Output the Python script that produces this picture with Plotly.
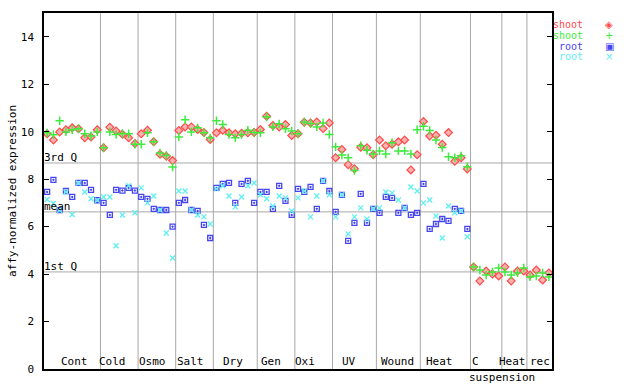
import plotly.graph_objects as go

# ---------------- data ----------------
groups = ["Cont", "Cold", "Osmo", "Salt", "Dry", "Gen", "Oxi", "UV", "Wound", "Heat", "C", "Heat", "rec"]
group_sizes = [9, 6, 6, 6, 7, 6, 6, 7, 7, 8, 5, 4, 4]

shoot_a = [9.91, 9.65, 9.99, 10.08, 10.16, 10.12, 9.74, 9.78, 10.08,
           9.32, 10.19, 10.03, 9.89, 9.74, 9.50,
           9.91, 10.06, 9.57, 9.05, 8.96, 8.78,
           10.05, 10.20, 10.20, 10.09, 9.97, 9.67,
           9.95, 10.06, 9.95, 9.91, 9.93, 9.95, 9.97,
           10.09, 10.65, 10.26, 10.20, 10.30, 9.84,
           9.91, 10.40, 10.37, 10.41, 10.13, 10.37,
           8.90, 9.25, 8.61, 8.44, 9.34, 9.32, 9.03,
           9.65, 9.41, 9.47, 9.57, 9.65, 8.39, 9.03,
           10.43, 9.82, 9.85, 9.47, 9.96, 8.75, 8.90, 8.43,
           4.30, 3.71, 4.13, 4.00, 3.92,
           4.30, 3.71, 4.13, 4.13,
           3.96, 4.17, 3.75, 4.05]

shoot_b = [9.95, 9.87, 10.46, 9.99, 10.08, 10.12, 9.91, 9.82, 9.99,
           9.32, 9.99, 9.88, 9.92, 9.91, 9.47,
           9.47, 9.95, 9.57, 9.10, 9.00, 8.51,
           9.78, 10.50, 9.99, 10.16, 9.95, 9.74,
           10.46, 10.30, 9.88, 9.74, 9.88, 10.06, 9.97,
           9.95, 10.62, 10.20, 10.33, 10.12, 10.03,
           9.91, 10.41, 10.34, 10.20, 10.37, 9.88,
           9.36, 9.02, 8.90, 8.36, 9.41, 9.22, 9.06,
           9.19, 9.06, 9.53, 9.19, 9.19, 9.06, 10.08,
           10.23, 10.05, 9.65, 9.33, 8.94, 8.90, 8.98, 8.52,
           4.30, 4.17, 3.96, 4.09, 4.26,
           4.09, 3.96, 4.05, 4.26,
           3.88, 3.92, 4.05, 3.88]

root_a = [7.46, 7.97, 6.69, 7.50, 7.25, 7.84, 7.84, 7.55, 7.11,
          7.00, 6.49, 7.55, 7.52, 7.63, 7.52,
          7.25, 7.17, 6.75, 6.70, 6.70, 6.00,
          7.00, 7.12, 6.70, 6.66, 6.07, 5.52,
          7.63, 7.80, 7.84, 7.00, 7.80, 7.93, 7.00,
          7.46, 7.46, 6.75, 7.72, 7.08, 6.49,
          7.59, 7.46, 7.67, 6.75, 7.93, 7.50,
          6.62, 7.34, 5.40, 6.16, 7.38, 6.16, 6.75,
          6.58, 7.25, 7.21, 6.58, 6.79, 6.49, 6.58,
          7.80, 5.90, 6.11, 6.32, 6.24, 6.75, 6.66, 5.90,
          None, None, None, None, None,
          None, None, None, None,
          None, None, None, None]

root_b = [7.14, 6.97, 6.69, 7.46, 6.51, 7.84, 7.46, 7.17, 7.11,
          7.25, 7.25, 5.19, 6.49, 7.72, 6.58,
          7.63, 7.00, 7.29, 6.70, 5.73, 4.68,
          7.50, 7.50, 6.70, 6.49, 6.41, 6.11,
          7.59, 7.72, 7.29, 6.83, 7.25, 7.72, 7.84,
          7.34, 7.17, 6.87, 7.29, 7.21, 6.66,
          7.21, 7.50, 6.41, 7.29, 7.93, 7.34,
          6.41, 7.34, 5.69, 6.41, 6.79, 6.32, 6.75,
          6.79, 7.46, 7.42, 7.12, 6.79, 7.67, 7.50,
          7.00, 7.12, 6.45, 5.52, 6.87, 6.58, 6.66, 5.57,
          None, None, None, None, None,
          None, None, None, None,
          None, None, None, None]

ref_values = [8.68, 6.62, 4.09]
ref_labels = ["3rd Q", "mean", "1st Q"]
series_names = ["shoot", "shoot", "root", "root"]
legend_glyphs = ["◈", "+", "▣", "×"]
y_ticks = [0, 2, 4, 6, 8, 10, 12, 14]

# ---------------- styling ----------------
FONT = "DejaVu Sans Mono"
colors = ["#ff4a4a", "#3cec3c", "#4646f0", "#5ef0f0"]
n = len(shoot_a)
xs = [i + 0.5 for i in range(n)]
Y_MAX = 15

styles = [
    dict(symbol="diamond", size=6, color="#ffb0b0", line=dict(color=colors[0], width=1.2)),
    dict(symbol="cross-thin", size=6, color=colors[1], line=dict(color=colors[1], width=1.5)),
    dict(symbol="square-open-dot", size=5, color=colors[2], line=dict(color=colors[2], width=1.3)),
    dict(symbol="x-thin", size=5, color=colors[3], line=dict(color=colors[3], width=1.3)),
]

fig = go.Figure()
for vals, st, name in zip([shoot_a, shoot_b, root_a, root_b], styles, series_names):
    fig.add_trace(go.Scatter(x=xs, y=vals, mode="markers", marker=st, name=name,
                             showlegend=False, hoverinfo="x+y"))

shapes = []
cum = 0
bounds = []
for s in group_sizes:
    bounds.append((cum, cum + s))
    cum += s
for lo, hi in bounds[:-1]:
    shapes.append(dict(type="line", xref="x", yref="y", x0=hi, x1=hi, y0=0, y1=Y_MAX,
                       line=dict(color="#a8a8a8", width=1), layer="below"))
for v in ref_values:
    shapes.append(dict(type="line", xref="x", yref="y", x0=0, x1=n, y0=v, y1=v,
                       line=dict(color="#a8a8a8", width=1), layer="below"))

annotations = []
label_shift = [2, -7, -4, -4, -2, -5, -9, -5, -1, -6, -11, -2, 1]
for (lo, hi), g, sh in zip(bounds, groups, label_shift):
    annotations.append(dict(x=(lo + hi) / 2, y=0, xref="x", yref="y", text=g, showarrow=False,
                            xanchor="center", yanchor="bottom", xshift=sh, yshift=-1,
                            font=dict(family=FONT, size=11, color="black")))
annotations.append(dict(x=(bounds[10][0] + bounds[10][1]) / 2, y=0, xref="x", yref="y",
                        text="suspension", showarrow=False, xanchor="center", yanchor="top",
                        xshift=16, yshift=0, font=dict(family=FONT, size=11, color="black")))
for v, t in zip(ref_values, ref_labels):
    annotations.append(dict(x=0, y=v, xref="x", yref="y", text=t, showarrow=False,
                            xanchor="left", yanchor="bottom", xshift=-2, yshift=-3,
                            font=dict(family=FONT, size=11, color="black")))

# legend (text left, symbol right), rows ~11 px apart
PLOT_W, PLOT_H = 508, 356
row_px = [24, 35.3, 46.3, 57]
leg_y = [(369 - p) / PLOT_H for p in row_px]
for name, glyph, c, yy in zip(series_names, legend_glyphs, colors, leg_y):
    annotations.append(dict(x=(585 - 44) / PLOT_W, y=yy, xref="paper", yref="paper",
                            text=name, showarrow=False, xanchor="right", yanchor="middle",
                            font=dict(family=FONT, size=10, color=c)))
    annotations.append(dict(x=(609 - 44) / PLOT_W, y=yy, xref="paper", yref="paper",
                            text=glyph, showarrow=False, xanchor="center", yanchor="middle",
                            font=dict(family="DejaVu Sans", size=10, color=c)))

fig.update_layout(
    width=640, height=384,
    margin=dict(l=44, r=88, t=13, b=15, autoexpand=False),
    paper_bgcolor="white", plot_bgcolor="white",
    font=dict(family=FONT, size=11, color="black"),
    showlegend=False,
    xaxis=dict(range=[0, n], showgrid=False, zeroline=False, showticklabels=False,
               ticks="", showline=True, linecolor="black", linewidth=1.5, mirror=True,
               automargin=False),
    yaxis=dict(range=[0, Y_MAX], tickvals=y_ticks, showgrid=False, zeroline=False,
               ticks="inside", ticklen=5, tickwidth=1, tickcolor="black",
               showline=True, linecolor="black", linewidth=1.5, mirror="ticks",
               ticklabelstandoff=6, automargin=False,
               title=dict(text="affy-normalized expression", standoff=2,
                          font=dict(family=FONT, size=11))),
    shapes=shapes,
    annotations=annotations,
)

fig.write_html("out.html", config={"displayModeBar": False},
               post_script="document.body.style.margin='0px';document.body.style.padding='0px';")
